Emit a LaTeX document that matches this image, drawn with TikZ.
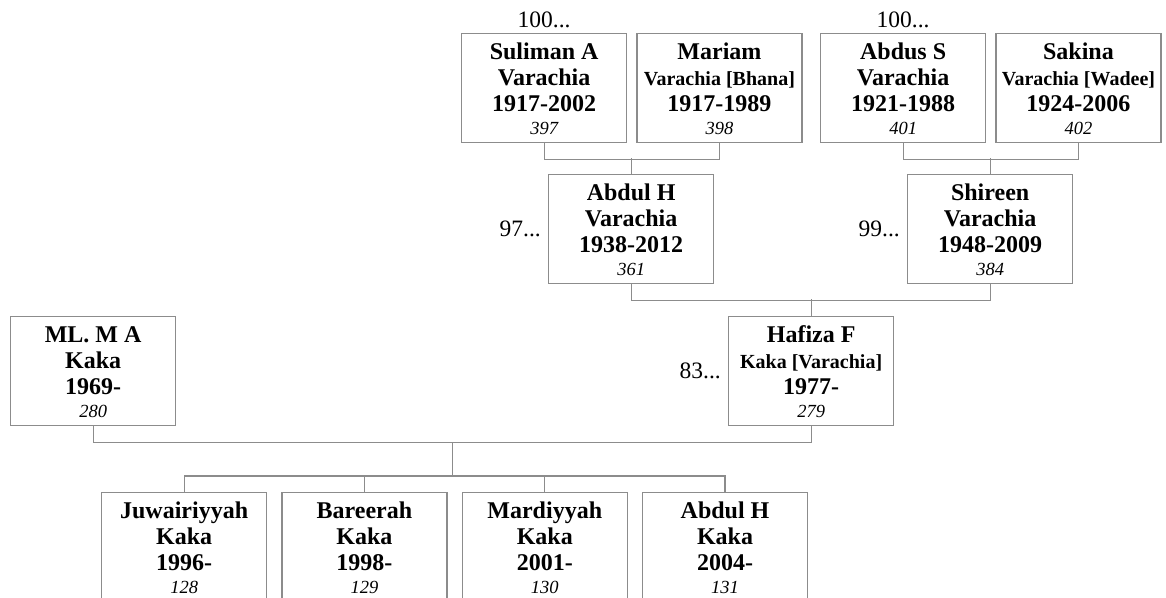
\documentclass[tikz,border=0pt]{standalone}
\usepackage{fontspec}
\setmainfont{Liberation Serif}
\usetikzlibrary{positioning, calc}
\definecolor{linegray}{gray}{0.55}
\newcommand{\pname}{\fontsize{24}{26}\selectfont\bfseries}
\newcommand{\psub}{\fontsize{20}{26}\selectfont\bfseries}
\newcommand{\pid}{\fontsize{18.5}{26}\selectfont\mdseries\itshape}
\newcommand{\person}[4]{\parbox[t][109pt][t]{165pt}{\centering\pname
  \rule{0pt}{25.5pt}#1\\{#2}\\#3\\[-2.5pt]{\pid #4}}}

\begin{document}
\begin{tikzpicture}[
    x=1pt, y=-1pt,
    node distance=9pt,
    box/.style={rectangle, draw=linegray, line width=1.3pt, inner sep=0pt,
        anchor=north west},
    more/.style={font=\fontsize{23.5}{26}\selectfont, inner sep=3pt},
    link/.style={draw=linegray, line width=1.3pt}
]
\useasboundingbox (0,0) rectangle (1166,597);
% grandparents (top)
\node[box] (suliman) at (461,33) {\person{Suliman A}{Varachia}{1917-2002}{397}};
\node[box, right=of suliman] (mariam) {\person{Mariam}{\psub Varachia [Bhana]}{1917-1989}{398}};
\node[box] (abdus) at (820,33) {\person{Abdus S}{Varachia}{1921-1988}{401}};
\node[box, right=of abdus] (sakina) {\person{Sakina}{\psub Varachia [Wadee]}{1924-2006}{402}};
\node[more, above=2pt of suliman] (sulimanmore) {100...};
\node[more, above=2pt of abdus] (abdusmore) {100...};
% parents of Hafiza
\node[box] (abdul) at (548,174) {\person{Abdul H}{Varachia}{1938-2012}{361}};
\node[box] (shireen) at (907,174) {\person{Shireen}{Varachia}{1948-2009}{384}};
\node[more, left=4pt of abdul] (abdulmore) {97...};
\node[more, left=4pt of shireen] (shireenmore) {99...};
\draw[link] (suliman.south) -- ++(0,16) -| (mariam.south);
\draw[link] (abdul.north) -- ++(0,-16);
\draw[link] (abdus.south) -- ++(0,16) -| (sakina.south);
\draw[link] (shireen.north) -- ++(0,-16);
% couple
\node[box] (ml) at (10,316) {\person{ML. M A}{Kaka}{1969-}{280}};
\node[box] (hafiza) at (728,316) {\person{Hafiza F}{\psub Kaka [Varachia]}{1977-}{279}};
\node[more, left=4pt of hafiza] (hafizamore) {83...};
\draw[link] (abdul.south) -- ++(0,16) -| (shireen.south);
\draw[link] (hafiza.north) -- ++(0,-17);
% children
\node[box] (juwa) at (101,492) {\person{Juwairiyyah}{Kaka}{1996-}{128}};
\node[box, right=14pt of juwa] (bareerah) {\person{Bareerah}{Kaka}{1998-}{129}};
\node[box, right=14pt of bareerah] (mardiyyah) {\person{Mardiyyah}{Kaka}{2001-}{130}};
\node[box, right=14pt of mardiyyah] (abdulh) {\person{Abdul H}{Kaka}{2004-}{131}};
\draw[link] (ml.south) -- ++(0,16) coordinate (famleft) -| (hafiza.south);
\coordinate (fam) at ($(famleft)!0.5!(famleft -| hafiza.south)$);
\draw[link] (juwa.north) -- ++(0,-16) -| (abdulh.north);
\draw[link] (bareerah.north) -- ++(0,-16);
\draw[link] (mardiyyah.north) -- ++(0,-16);
\draw[link] (fam) -- ($(fam |- abdulh.north)+(0,-16)$);
\end{tikzpicture}
\end{document}
